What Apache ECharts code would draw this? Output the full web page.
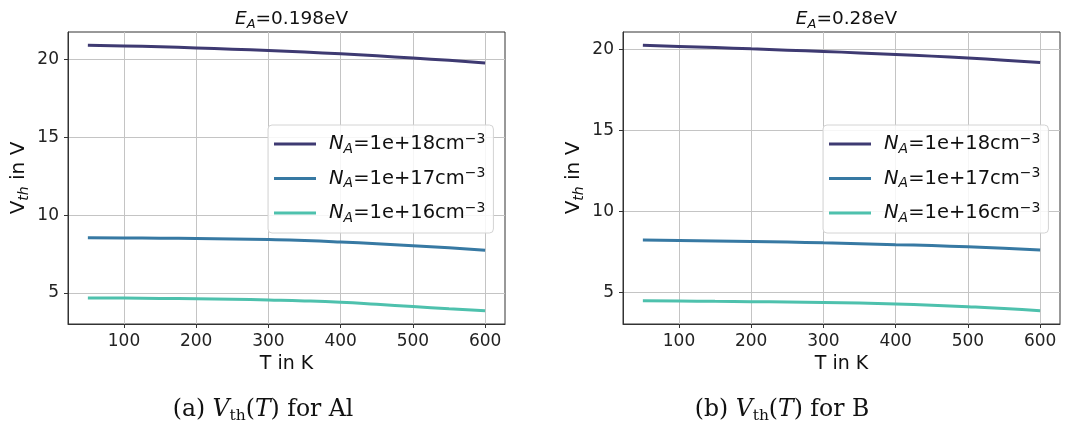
<!DOCTYPE html>
<html>
<head>
<meta charset="utf-8">
<title>Threshold voltage vs temperature</title>
<script src="https://cdn.jsdelivr.net/npm/echarts@6/dist/echarts.min.js"></script>
<style>
  html, body { margin: 0; padding: 0; background: #fff; }
  #chart { width: 1079px; height: 436px; }
</style>
</head>
<body>
<div id="chart"></div>
<script>
// Temperature samples (K)
const temperatures = [50, 100, 150, 200, 250, 300, 350, 400, 450, 500, 550, 600];

// Threshold voltage (V) for Al acceptors, E_A = 0.198 eV
const alNa18 = [20.92, 20.88, 20.82, 20.75, 20.67, 20.58, 20.48, 20.37, 20.24, 20.10, 19.95, 19.78];
const alNa17 = [8.55, 8.54, 8.52, 8.50, 8.47, 8.43, 8.37, 8.28, 8.17, 8.04, 7.90, 7.75];
const alNa16 = [4.68, 4.67, 4.65, 4.63, 4.60, 4.55, 4.49, 4.40, 4.27, 4.13, 3.99, 3.86];

// Threshold voltage (V) for B acceptors, E_A = 0.28 eV
const bNa18 = [20.27, 20.20, 20.13, 20.05, 19.97, 19.89, 19.80, 19.70, 19.60, 19.48, 19.35, 19.20];
const bNa17 = [8.24, 8.22, 8.19, 8.16, 8.12, 8.07, 8.02, 7.96, 7.90, 7.83, 7.74, 7.63];
const bNa16 = [4.49, 4.48, 4.46, 4.44, 4.42, 4.39, 4.35, 4.29, 4.22, 4.13, 4.02, 3.88];

// Tick labels
const xTicks = [100, 200, 300, 400, 500, 600];
const yTicks = [5, 10, 15, 20];

// Legend / series names and panel titles
const dopings = ['1e+18', '1e+17', '1e+16'];
const panelTitles = ['0.198', '0.28'];
const captions = [['(a) ', 'Al'], ['(b) ', 'B']];

const colors = ['#3e3a72', '#3779a3', '#4ec1ad'];
const font = 'DejaVu Sans';

function pairs(ys) { return temperatures.map((t, i) => [t, ys[i]]); }

// matplotlib-style 5% margins around the data extent
function padded(arrs) {
  const all = [].concat(...arrs);
  const lo = Math.min(...all), hi = Math.max(...all);
  const m = (hi - lo) * 0.05;
  return [lo - m, hi + m];
}
const xPad = (temperatures[temperatures.length - 1] - temperatures[0]) * 0.05;
const xMin = temperatures[0] - xPad, xMax = temperatures[temperatures.length - 1] + xPad;

const panels = [
  { left: 68, data: [alNa18, alNa17, alNa16], legendLeft: 268, captionX: 263 },
  { left: 623, data: [bNa18, bNa17, bNa16], legendLeft: 823, captionX: 782 }
];

const richLegend = {
  i: { fontFamily: font, fontStyle: 'italic', fontSize: 19.5, lineHeight: 24, color: '#111' },
  s: { fontFamily: font, fontStyle: 'italic', fontSize: 14, verticalAlign: 'bottom', lineHeight: 15, color: '#111' },
  n: { fontFamily: font, fontSize: 19.5, lineHeight: 24, color: '#111' },
  p: { fontFamily: font, fontSize: 14, verticalAlign: 'top', lineHeight: 13, color: '#111' },
  g: { width: 8 }
};

const option = {
  animation: false,
  backgroundColor: '#fff',
  title: panels.map((p, k) => ({
    text: '{i|E}{s|A}{n|=' + panelTitles[k] + 'eV}',
    left: p.left + 218.5,
    textAlign: 'center',
    top: 2,
    textStyle: {
      fontWeight: 'normal',
      rich: {
        i: { fontFamily: font, fontStyle: 'italic', fontWeight: 'normal', fontSize: 18.5, color: '#111', lineHeight: 24 },
        s: { fontFamily: font, fontStyle: 'italic', fontWeight: 'normal', fontSize: 13, color: '#111', verticalAlign: 'bottom', lineHeight: 14 },
        n: { fontFamily: font, fontWeight: 'normal', fontSize: 18.5, color: '#111', lineHeight: 24 }
      }
    }
  })),
  legend: panels.map((p, k) => ({
    data: dopings.map((d, j) => ({ name: 'p' + k + '_' + j, icon: 'rect' })),
    orient: 'vertical',
    left: p.legendLeft,
    top: 125,
    itemWidth: 42,
    itemHeight: 3,
    itemGap: 10.5,
    padding: [7, 8, 8, 6],
    backgroundColor: 'rgba(255,255,255,0.85)',
    borderColor: '#d4d4d4',
    borderWidth: 1,
    borderRadius: 4,
    selectedMode: false,
    formatter: name => {
      const j = +name.split('_')[1];
      return '{g|}{i|N}{s|A}{n|=' + dopings[j] + 'cm}{p|\u22123}';
    },
    textStyle: { color: '#111', rich: richLegend }
  })),
  grid: panels.map(p => ({
    left: p.left, top: 32, width: 437, height: 292,
    show: true, borderColor: '#333', borderWidth: 1, backgroundColor: 'transparent'
  })),
  xAxis: panels.map((p, k) => ({
    type: 'value', gridIndex: k,
    min: xMin, max: xMax, minInterval: 100, maxInterval: 100,
    name: 'T in K', nameLocation: 'middle', nameGap: 31,
    nameTextStyle: { fontFamily: font, fontSize: 19, color: '#111' },
    axisLine: { show: true, onZero: false, lineStyle: { color: '#333', width: 1 } },
    axisTick: { show: true, inside: false, length: 4, customValues: xTicks, lineStyle: { color: '#333' } },
    axisLabel: { customValues: xTicks, margin: 9, fontFamily: font, fontSize: 17, color: '#222' },
    splitLine: { show: true, lineStyle: { color: '#c4c4c4', width: 1 } }
  })),
  yAxis: panels.map((p, k) => {
    const ext = padded(p.data);
    return {
      type: 'value', gridIndex: k,
      min: ext[0], max: ext[1], minInterval: 5, maxInterval: 5,
      name: '{v|V}{s|th}{n| in V}', nameLocation: 'middle', nameGap: 37, nameRotate: 90,
      nameTextStyle: {
        rich: {
          v: { fontFamily: font, fontSize: 20, color: '#111', lineHeight: 24 },
          s: { fontFamily: font, fontStyle: 'italic', fontSize: 14, color: '#111', verticalAlign: 'bottom', lineHeight: 14 },
          n: { fontFamily: font, fontSize: 20, color: '#111', lineHeight: 24 }
        }
      },
      axisLine: { show: true, onZero: false, lineStyle: { color: '#333', width: 1 } },
      axisTick: { show: true, inside: false, length: 4, customValues: yTicks, lineStyle: { color: '#333' } },
      axisLabel: { customValues: yTicks, margin: 9, fontFamily: font, fontSize: 17, color: '#222' },
      splitLine: { show: true, lineStyle: { color: '#c4c4c4', width: 1 } }
    };
  }),
  series: [].concat(...panels.map((p, k) => p.data.map((ys, j) => ({
    type: 'line',
    name: 'p' + k + '_' + j,
    xAxisIndex: k, yAxisIndex: k,
    data: pairs(ys),
    showSymbol: false,
    smooth: true,
    color: colors[j],
    lineStyle: { width: 3, color: colors[j] }
  })))),
  graphic: panels.map((p, k) => ({
    type: 'text',
    x: p.captionX,
    y: 396,
    style: {
      text: '{r|' + captions[k][0] + '}{i|V}{s|th}{r|(}{i|T}{r|) for ' + captions[k][1] + '}',
      align: 'center',
      rich: {
        r: { fontFamily: 'DejaVu Serif', fontSize: 23.5, fill: '#111', lineHeight: 28 },
        i: { fontFamily: 'DejaVu Serif', fontStyle: 'italic', fontSize: 23.5, fill: '#111', lineHeight: 28 },
        s: { fontFamily: 'DejaVu Serif', fontSize: 15.5, fill: '#111', verticalAlign: 'bottom', lineHeight: 17 }
      }
    }
  }))
};

const chart = echarts.init(document.getElementById('chart'), null, { renderer: 'canvas' });
chart.setOption(option);
</script>
</body>
</html>
